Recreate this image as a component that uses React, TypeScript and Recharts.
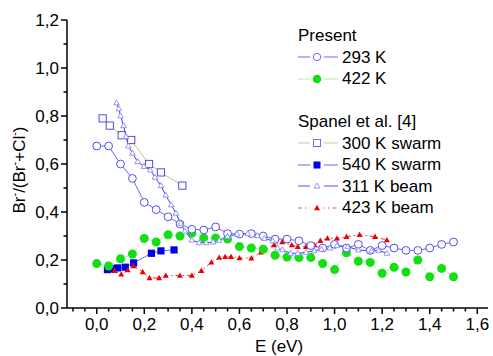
import React from 'react';
import { ComposedChart, Line, XAxis, YAxis } from 'recharts';

// Present, 293 K
const e293 = [0, 0.05, 0.1, 0.15, 0.2, 0.25, 0.3, 0.35, 0.4, 0.45, 0.5, 0.55, 0.6, 0.65, 0.7, 0.75, 0.8, 0.85, 0.9, 0.95, 1.0, 1.05, 1.1, 1.15, 1.2, 1.25, 1.3, 1.35, 1.4, 1.45, 1.5];
const r293 = [0.675, 0.675, 0.6, 0.54, 0.44, 0.41, 0.38, 0.35, 0.328, 0.325, 0.338, 0.31, 0.308, 0.31, 0.3, 0.287, 0.287, 0.28, 0.26, 0.25, 0.265, 0.25, 0.265, 0.24, 0.26, 0.25, 0.24, 0.24, 0.25, 0.265, 0.275];

// Present, 422 K
const e422 = [0, 0.05, 0.1, 0.15, 0.2, 0.25, 0.3, 0.35, 0.4, 0.45, 0.5, 0.55, 0.6, 0.65, 0.7, 0.75, 0.8, 0.85, 0.9, 0.95, 1.0, 1.05, 1.1, 1.15, 1.2, 1.25, 1.3, 1.35, 1.4, 1.45, 1.5];
const r422 = [0.185, 0.175, 0.205, 0.225, 0.29, 0.275, 0.305, 0.3, 0.312, 0.292, 0.292, 0.287, 0.256, 0.25, 0.245, 0.22, 0.212, 0.21, 0.21, 0.185, 0.16, 0.23, 0.195, 0.19, 0.145, 0.17, 0.15, 0.2, 0.13, 0.165, 0.13];

// Spanel et al., 300 K swarm
const e300s = [0.025, 0.055, 0.105, 0.145, 0.22, 0.27, 0.36];
const r300s = [0.79, 0.76, 0.72, 0.7, 0.6, 0.565, 0.51];

// Spanel et al., 540 K swarm
const e540s = [0.045, 0.062, 0.088, 0.12, 0.155, 0.23, 0.27, 0.325];
const r540s = [0.16, 0.163, 0.167, 0.17, 0.188, 0.228, 0.238, 0.242];

// Spanel et al., 311 K beam
const e311b = [0.083, 0.093, 0.1, 0.113, 0.123, 0.133, 0.15, 0.172, 0.198, 0.225, 0.245, 0.27, 0.29, 0.313, 0.333, 0.353, 0.37, 0.4, 0.43, 0.46, 0.49, 0.515, 0.55, 0.59, 0.635, 0.675, 0.705, 0.74, 0.76, 0.78, 0.815, 0.845, 0.88, 0.915, 0.945, 0.98, 1.01, 1.055, 1.1, 1.155, 1.185, 1.22];
const r311b = [0.855, 0.83, 0.8, 0.76, 0.715, 0.675, 0.645, 0.61, 0.59, 0.575, 0.545, 0.51, 0.47, 0.43, 0.395, 0.353, 0.32, 0.283, 0.272, 0.272, 0.275, 0.282, 0.298, 0.308, 0.31, 0.302, 0.29, 0.28, 0.25, 0.242, 0.228, 0.228, 0.232, 0.238, 0.245, 0.25, 0.26, 0.255, 0.242, 0.238, 0.24, 0.228];

// Spanel et al., 423 K beam
const e423b = [0.075, 0.103, 0.13, 0.155, 0.193, 0.222, 0.262, 0.29, 0.35, 0.4, 0.44, 0.482, 0.515, 0.54, 0.565, 0.6, 0.65, 0.69, 0.745, 0.78, 0.82, 0.845, 0.88, 0.915, 0.94, 0.97, 1.01, 1.05, 1.105, 1.17, 1.22];
const r423b = [0.155, 0.14, 0.158, 0.175, 0.15, 0.125, 0.125, 0.135, 0.135, 0.135, 0.155, 0.19, 0.21, 0.213, 0.213, 0.208, 0.207, 0.232, 0.262, 0.275, 0.262, 0.255, 0.255, 0.262, 0.28, 0.29, 0.29, 0.297, 0.305, 0.297, 0.283];

const xTicks = [-0.1, -0.05, 0, 0.05, 0.1, 0.15, 0.2, 0.25, 0.3, 0.35, 0.4, 0.45, 0.5, 0.55, 0.6, 0.65, 0.7, 0.75, 0.8, 0.85, 0.9, 0.95, 1.0, 1.05, 1.1, 1.15, 1.2, 1.25, 1.3, 1.35, 1.4, 1.45, 1.5, 1.55, 1.6];
const yTicks = [0, 0.1, 0.2, 0.3, 0.4, 0.5, 0.6, 0.7, 0.8, 0.9, 1.0, 1.1, 1.2];

const zip = (xs: number[], ys: number[]) => xs.map((x, i) => ({ x, y: ys[i] }));

const FONT = 'Liberation Sans, Arial, sans-serif';
const isMajor = (v: number) => Math.abs(Math.round(v * 5) - v * 5) < 1e-6;
const fmt = (v: number) => v.toFixed(1).replace('.', ',');

const XTick = (props: any) => {
  const { x, y, payload } = props;
  const major = isMajor(payload.value);
  return (
    <g>
      <line x1={x} x2={x} y1={y} y2={y + (major ? 6 : 3.5)} stroke="#000" strokeWidth={1.5} />
      {major && (
        <text x={x} y={y + 22} textAnchor="middle" fontSize={17} fontFamily={FONT} fill="#000">
          {fmt(payload.value)}
        </text>
      )}
    </g>
  );
};

const YTick = (props: any) => {
  const { x, y, payload } = props;
  const major = isMajor(payload.value);
  return (
    <g>
      <line x1={x - (major ? 6 : 3.5)} x2={x} y1={y} y2={y} stroke="#000" strokeWidth={1.5} />
      {major && (
        <text x={x - 8} y={y + 6} textAnchor="end" fontSize={17} fontFamily={FONT} fill="#000">
          {fmt(payload.value)}
        </text>
      )}
    </g>
  );
};

const OpenCircle = (p: any) => (
  <circle key={p.index} cx={p.cx} cy={p.cy} r={3.9} fill="#fff" stroke="#4f4ff5" strokeWidth={1} />
);
const GreenCircle = (p: any) => (
  <circle key={p.index} cx={p.cx} cy={p.cy} r={4.5} fill="#12e012" stroke="none" />
);
const OpenSquare = (p: any) => (
  <rect key={p.index} x={p.cx - 3.6} y={p.cy - 3.6} width={7.2} height={7.2} fill="#fff" stroke="#4a4af5" strokeWidth={1} />
);
const BlueSquare = (p: any) => (
  <rect key={p.index} x={p.cx - 3.6} y={p.cy - 3.6} width={7.2} height={7.2} fill="#0000f0" stroke="none" />
);
const OpenTri = (p: any) => (
  <polygon key={p.index} points={`${p.cx},${p.cy - 3} ${p.cx - 2.8},${p.cy + 2} ${p.cx + 2.8},${p.cy + 2}`} fill="#fff" stroke="#8c8cf0" strokeWidth={0.9} />
);
const RedTri = (p: any) => (
  <polygon key={p.index} points={`${p.cx},${p.cy - 3.2} ${p.cx - 3},${p.cy + 2.2} ${p.cx + 3},${p.cy + 2.2}`} fill="#ee0000" stroke="none" />
);

const legendRows = [
  { label: '293 K', line: '#6c6cf5', dash: undefined, mark: 'oc' },
  { label: '422 K', line: '#a8eea8', dash: undefined, mark: 'gc' },
  { label: '300 K swarm', line: '#c8c8a0', dash: undefined, mark: 'os' },
  { label: '540 K swarm', line: '#6c6cf5', dash: undefined, mark: 'bs' },
  { label: '311 K beam', line: '#4f4ff5', dash: undefined, mark: 'ot' },
  { label: '423 K beam', line: '#ee5050', dash: '4 3 1.5 3', mark: 'rt' },
];

const Marker = ({ mark }: { mark: string }) => {
  const cx = 19, cy = 8;
  if (mark === 'oc') return <circle cx={cx} cy={cy} r={3.7} fill="#fff" stroke="#6c6cf5" />;
  if (mark === 'gc') return <circle cx={cx} cy={cy} r={4.3} fill="#12e012" />;
  if (mark === 'os') return <rect x={cx - 3.5} y={cy - 3.5} width={7} height={7} fill="#fff" stroke="#6c6cf5" />;
  if (mark === 'bs') return <rect x={cx - 3.5} y={cy - 3.5} width={7} height={7} fill="#0000f0" />;
  if (mark === 'ot') return <polygon points={`${cx},${cy - 3} ${cx - 2.8},${cy + 2} ${cx + 2.8},${cy + 2}`} fill="#fff" stroke="#8c8cf0" strokeWidth={0.9} />;
  return <polygon points={`${cx},${cy - 3.2} ${cx - 3},${cy + 2.2} ${cx + 3},${cy + 2.2}`} fill="#ee0000" />;
};

const LegendRow = ({ row }: { row: any }) => (
  <div style={{ display: 'flex', alignItems: 'center', height: 21.5 }}>
    <svg width={40} height={16} style={{ marginRight: 4 }}>
      <line x1={0} x2={40} y1={8} y2={8} stroke={row.line} strokeWidth={1.2} strokeDasharray={row.dash} />
      <rect x={12} y={2} width={14} height={12} fill="#fff" />
      <Marker mark={row.mark} />
    </svg>
    <span>{row.label}</span>
  </div>
);

const LegendBox = () => (
  <div style={{ position: 'absolute', left: 298, top: 25, fontFamily: FONT, fontSize: 17, color: '#000', lineHeight: '21.5px' }}>
    <div>Present</div>
    <LegendRow row={legendRows[0]} />
    <LegendRow row={legendRows[1]} />
    <div style={{ height: 21.5 }} />
    <div>Spanel et al. [4]</div>
    <LegendRow row={legendRows[2]} />
    <LegendRow row={legendRows[3]} />
    <LegendRow row={legendRows[4]} />
    <LegendRow row={legendRows[5]} />
  </div>
);

const YLabel = () => (
  <text transform="translate(25,170) rotate(-90)" textAnchor="middle" fontSize={17} fontFamily={FONT} fill="#000">
    Br<tspan dy={-7} fontSize={11}>-</tspan>
    <tspan dy={7}>/(Br</tspan>
    <tspan dy={-7} fontSize={11}>-</tspan>
    <tspan dy={7}>+Cl</tspan>
    <tspan dy={-7} fontSize={11}>-</tspan>
    <tspan dy={7}>)</tspan>
  </text>
);

const XLabel = () => (
  <text x={279} y={352} textAnchor="middle" fontSize={17} fontFamily={FONT} fill="#000">
    E (eV)
  </text>
);

export default function App() {
  return (
    <div style={{ position: 'absolute', left: 0, top: 0, width: 493, height: 356, background: '#fff' }}>
      <ComposedChart width={493} height={356} margin={{ top: 20, right: 5, bottom: 8, left: 12 }}>
        <XAxis
          type="number"
          dataKey="x"
          domain={[-0.125, 1.645]}
          ticks={xTicks}
          interval={0}
          tick={<XTick />}
          tickLine={false}
          tickSize={0}
          tickMargin={0}
          axisLine={{ stroke: '#000', strokeWidth: 1.5 }}
          height={40}
          allowDataOverflow
          label={<XLabel />}
        />
        <YAxis
          type="number"
          dataKey="y"
          domain={[0, 1.2]}
          ticks={yTicks}
          interval={0}
          tick={<YTick />}
          tickLine={false}
          tickSize={0}
          tickMargin={0}
          axisLine={{ stroke: '#000', strokeWidth: 1.5 }}
          width={55}
          allowDataOverflow
          label={<YLabel />}
        />
        <Line data={zip(e300s, r300s)} dataKey="y" stroke="#c0c08a" strokeWidth={1} dot={OpenSquare} activeDot={false} isAnimationActive={false} />
        <Line data={zip(e540s, r540s)} dataKey="y" stroke="#6c6cf5" strokeWidth={1} dot={BlueSquare} activeDot={false} isAnimationActive={false} />
        <Line data={zip(e423b, r423b)} dataKey="y" stroke="#ee3030" strokeWidth={1} strokeDasharray="4 3 1.5 3" dot={RedTri} activeDot={false} isAnimationActive={false} />
        <Line data={zip(e422, r422)} dataKey="y" stroke="#8fe88f" strokeWidth={1} strokeDasharray="2 2" dot={GreenCircle} activeDot={false} isAnimationActive={false} />
        <Line data={zip(e293, r293)} dataKey="y" stroke="#6c6cf5" strokeWidth={1} dot={OpenCircle} activeDot={false} isAnimationActive={false} />
        <Line data={zip(e311b, r311b)} dataKey="y" stroke="#3c3cf0" strokeWidth={1} dot={OpenTri} activeDot={false} isAnimationActive={false} />
      </ComposedChart>
      <LegendBox />
    </div>
  );
}
